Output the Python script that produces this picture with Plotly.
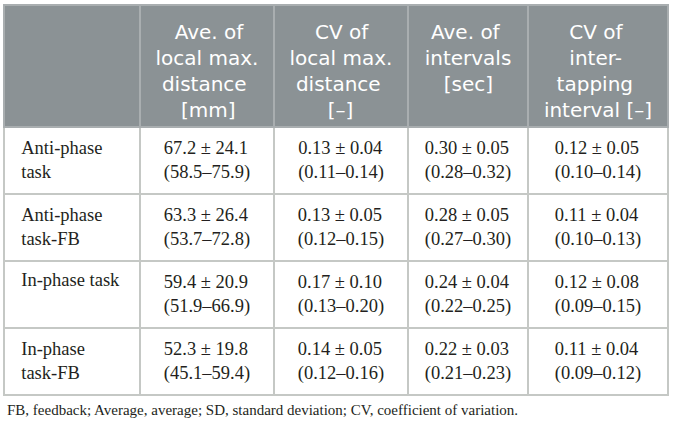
import plotly.graph_objects as go

W, H = 673, 427

# ---- data ----
conditions = ["Anti-phase<br>task", "Anti-phase<br>task-FB", "In-phase task", "In-phase<br>task-FB"]
col_headers = ["",
               "Ave. of<br>local max.<br>distance<br>[mm]",
               "CV of<br>local max.<br>distance<br>[–]",
               "Ave. of<br>intervals<br>[sec]",
               "CV of<br>inter-<br>tapping<br>interval [–]"]

dist_mean = [67.2, 63.3, 59.4, 52.3]
dist_sd = [24.1, 26.4, 20.9, 19.8]
dist_lo = [58.5, 53.7, 51.9, 45.1]
dist_hi = [75.9, 72.8, 66.9, 59.4]

cvdist_mean = [0.13, 0.13, 0.17, 0.14]
cvdist_sd = [0.04, 0.05, 0.10, 0.05]
cvdist_lo = [0.11, 0.12, 0.13, 0.12]
cvdist_hi = [0.14, 0.15, 0.20, 0.16]

int_mean = [0.30, 0.28, 0.24, 0.22]
int_sd = [0.05, 0.05, 0.04, 0.03]
int_lo = [0.28, 0.27, 0.22, 0.21]
int_hi = [0.32, 0.30, 0.25, 0.23]

cvint_mean = [0.12, 0.11, 0.12, 0.11]
cvint_sd = [0.05, 0.04, 0.08, 0.04]
cvint_lo = [0.10, 0.10, 0.09, 0.09]
cvint_hi = [0.14, 0.13, 0.15, 0.12]

footnote = "FB, feedback; Average, average; SD, standard deviation; CV, coefficient of variation."

NB = "\u00a0"

# approximate DejaVu Sans advance widths (em) used to centre each header line,
# because plotly tables centre a multi-line block but left-align its lines
DJV = {" ": .318, NB: .318, "A": .684, "C": .698, "V": .684, "a": .613, "c": .550,
       "d": .635, "e": .615, "f": .352, "g": .635, "i": .278, "l": .278, "m": .974,
       "n": .634, "o": .612, "p": .635, "r": .411, "s": .521, "t": .392, "v": .592,
       "x": .592, ".": .318, "-": .361, "[": .390, "]": .390, "–": .500}


def nb(s):
    return s.replace(" ", NB)


def centre_lines(s):
    lines = s.split("<br>")
    widths = [sum(DJV.get(ch, .6) for ch in ln) for ln in lines]
    wmax = max(widths) if widths else 0
    out = []
    for ln, w in zip(lines, widths):
        n = int(round((wmax - w) / 2 / DJV[NB]))
        out.append(NB * n + nb(ln))
    return "<br>".join(out)


def fmt(mean, sd, lo, hi, d):
    return [nb(f"{m:.{d}f} ± {s:.{d}f}<br>({a:.{d}f}–{b:.{d}f})")
            for m, s, a, b in zip(mean, sd, lo, hi)]


pad = NB * 2
col0 = [pad + nb(c).replace("<br>", "<br>" + pad) for c in conditions]
cells = [
    col0,
    fmt(dist_mean, dist_sd, dist_lo, dist_hi, 1),
    fmt(cvdist_mean, cvdist_sd, cvdist_lo, cvdist_hi, 2),
    fmt(int_mean, int_sd, int_lo, int_hi, 2),
    fmt(cvint_mean, cvint_sd, cvint_lo, cvint_hi, 2),
]
headers = [centre_lines(h) for h in col_headers]

col_w = [136, 134, 134, 120, 140]
x0 = 4
x1 = x0 + sum(col_w)
top = 5
head_h = 122
row_h = 67
dy_head = 7   # header text sits lower than plotly's default
dy_body = 5   # body text sits higher than plotly's default

NONE = "rgba(0,0,0,0)"
ncol = len(col_w)
nrow = len(conditions)

# grid: fills and rules
fig = go.Figure(go.Table(
    domain=dict(x=[x0 / W, x1 / W], y=[0.0, 1 - top / H]),
    columnwidth=col_w,
    header=dict(
        values=[""] * ncol,
        fill_color="#8b9295",
        line=dict(color="#a9aeb0", width=2),
        height=head_h,
    ),
    cells=dict(
        values=[[""] * nrow for _ in range(ncol)],
        fill_color="white",
        line=dict(color="#c5c8c5", width=2),
        height=row_h,
    ),
))

# text layer
fig.add_trace(go.Table(
    domain=dict(x=[x0 / W, x1 / W], y=[0.0, 1 - (top + dy_head) / H]),
    columnwidth=col_w,
    header=dict(
        values=headers,
        fill_color=NONE,
        line=dict(color=NONE, width=0),
        font=dict(family="DejaVu Sans", size=20, color="white"),
        align="center",
        height=head_h - dy_head - dy_body,
    ),
    cells=dict(
        values=cells,
        fill_color=NONE,
        line=dict(color=NONE, width=0),
        font=dict(family="Liberation Serif", size=18.5, color="#231f20"),
        align=["left", "center", "center", "center", "center"],
        height=row_h,
    ),
))

fig.add_annotation(
    text=footnote, xref="paper", yref="paper",
    x=5 / W, y=1 - 410 / H, xanchor="left", yanchor="middle",
    showarrow=False,
    font=dict(family="Liberation Serif", size=15, color="#231f20"),
)

fig.update_layout(
    width=W, height=H,
    margin=dict(l=0, r=0, t=0, b=0),
    paper_bgcolor="white",
)

fig.write_html("out.html", config={"displayModeBar": False},
               post_script="document.body.style.margin='0';")
